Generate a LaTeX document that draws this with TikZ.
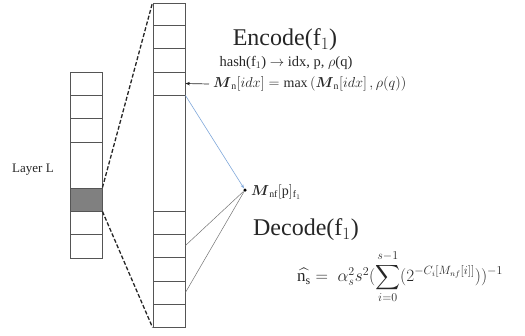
\documentclass[tikz,border=0pt]{standalone}
\usepackage{amsmath}
\usepackage{fontspec}
\setmainfont{Liberation Serif}
\usetikzlibrary{arrows.meta}
\definecolor{cellline}{HTML}{555555}
\definecolor{linkblue}{HTML}{7FA7DA}
\tikzset{
  cell/.style={draw=cellline, line width=0.9pt, minimum width=32pt, inner sep=0pt, fill=white},
  hot/.style={cell, fill=black!50},
  zoomline/.style={line width=1.3pt, dash pattern=on 4pt off 2pt, black!85},
  txt/.style={inner sep=0pt, text=black!85},
  bluelink/.style={linkblue, line width=0.6pt, -{Stealth[length=4pt,width=3pt]}},
  graylink/.style={black!55, line width=0.5pt},
}
\begin{document}
\begin{tikzpicture}[x=1pt,y=-1pt]
\useasboundingbox (0,0) rectangle (525,335);
% small column (Layer L)
\node[cell, minimum height=23pt] (s1) at (86,83.5) {};
\node[cell, minimum height=23pt] (s2) at (86,106.5) {};
\node[cell, minimum height=24pt] (s3) at (86,130) {};
\node[cell, minimum height=46pt] (s4) at (86,165) {};
\node[hot,  minimum height=23pt] (s5) at (86,199.5) {};
\node[cell, minimum height=23pt] (s6) at (86,222.5) {};
\node[cell, minimum height=24pt] (s7) at (86,246) {};
% big column
\node[cell, minimum height=22pt] (b1) at (169,14) {};
\node[cell, minimum height=23pt] (b2) at (169,36.5) {};
\node[cell, minimum height=24pt] (b3) at (169,60) {};
\node[cell, minimum height=23pt] (b4) at (169,83.5) {};
\node[cell, minimum height=116pt] (b5) at (169,153) {};
\node[cell, minimum height=23pt] (b6) at (169,222.5) {};
\node[cell, minimum height=23pt] (b7) at (169,245.5) {};
\node[cell, minimum height=24pt] (b8) at (169,269) {};
\node[cell, minimum height=23pt] (b9) at (169,292.5) {};
\node[cell, minimum height=23pt] (b10) at (169,315.5) {};
% zoom lines
\draw[zoomline] (s5.north east) -- (b1.north west);
\draw[zoomline] (s5.south east) -- (b10.south west);
% labels
\node[txt, font=\fontsize{13}{15}\selectfont] (layer) at (33,170) {Layer L};
\node[txt, font=\fontsize{24}{28}\selectfont] (enc) at (285,40) {Encode(f$_1$)};
\node[txt, font=\fontsize{14.5}{17}\selectfont] (hash) at (286,63) {hash(f$_1$) $\rightarrow$ idx, p, $\rho$(q)};
\node[txt, anchor=west, font=\fontsize{14}{17}\selectfont] (mn) at (213,84)
  {$\boldsymbol{M}_{\mathrm{n}}[idx] = \max\left(\boldsymbol{M}_{\mathrm{n}}[idx]\,,\rho(q)\right)$};
\draw[black!85, line width=0.7pt, -{Stealth[length=4.5pt,width=3.5pt]}] ([xshift=-4pt]mn.west) -- (b4.east);
% point
\node[circle, fill=black, inner sep=0pt, minimum size=3.5pt] (pt) at (245,190) {};
\node[txt, anchor=west, font=\fontsize{14}{17}\selectfont] (mnf) at (251,192)
  {$\boldsymbol{M}_{\mathrm{nf}}[\mathrm{p}]_{\mathrm{f}_1}$};
\draw[bluelink] (b4.south east) -- (pt);
\draw[graylink] (b7.east) -- (pt);
\draw[graylink] (b9.east) -- (pt);
\node[txt, font=\fontsize{24}{28}\selectfont] (dec) at (306,230) {Decode(f$_1$)};
\node[txt, font=\fontsize{17}{20}\selectfont] (form) at (400,277)
  {$\widehat{\mathrm{n}_\mathrm{s}} = \;\alpha_s^2 s^2 (\displaystyle\sum_{i=0}^{s-1}(2^{-C_i[M_{nf}[i]]}))^{-1}$};
\end{tikzpicture}
\end{document}
